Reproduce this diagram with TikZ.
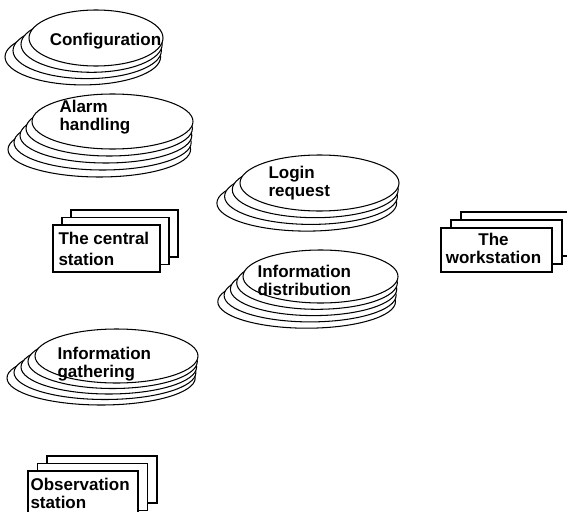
\documentclass[tikz,border=0pt]{standalone}
\usepackage{fontspec}
\setmainfont{Liberation Sans}
\newcommand\ellstack[7]{% cx cy rx ry n dx dy
  \foreach \i in {#5,...,1}{\draw[fill=white] ({#1+\i*#6*0.55},{#2+\i*#7}) ellipse ({#3-\i*#6*0.45)*1pt} and {#4pt});}
  \draw[fill=white] (#1,#2) ellipse ({#3pt} and {#4pt});
}
\newcommand\boxstack[6]{% x1 y1 x2 y2 dx dy
  \foreach \i in {2,1}{\draw[fill=white] ({#1+\i*#5},{#2+\i*#6}) rectangle ({#3+\i*#5},{#4+\i*#6});}
  \draw[fill=white] (#1,#2) rectangle (#3,#4);
}
\begin{document}
\begin{tikzpicture}[x=1pt,y=-1pt,line width=1.05pt,
  lbl/.style={font=\fontsize{17}{17.5}\selectfont\bfseries,inner sep=0pt,align=left,anchor=north west}]
\clip (0,0) rectangle (567,511);
% processes
\ellstack{96}{38}{67}{28}{3}{-8}{6.3}
\ellstack{112.5}{121.5}{80.5}{27.5}{4}{-6}{7}
\ellstack{319.5}{183}{79.5}{28}{3}{-7.7}{6.7}
\ellstack{320.5}{276.5}{77.5}{26.5}{4}{-6.3}{6.3}
\ellstack{116.5}{356}{81.5}{27}{4}{-7}{5.5}
% stations
\boxstack{53}{225}{160}{272}{9}{-7.5}
\boxstack{441}{228}{552}{272}{10}{-8}
\boxstack{28}{471}{138}{518}{9.5}{-7.5}
% labels
\node[lbl,anchor=north] (cfg) at (105.5,33) {Configuration};
\node[lbl] (alarm) at (59,100) {Alarm\\handling};
\node[lbl] (login) at (268,166) {Login\\request};
\node[lbl] (idist) at (257,265) {Information\\distribution};
\node[lbl] (igath) at (57,347) {Information\\gathering};
\node[lbl] (central) at (58,232) {The central\\[3pt]station};
\node[lbl,align=center,anchor=north] (work) at (493.5,233) {The\\workstation};
\node[lbl] (obs) at (30,478) {Observation\\station};
\end{tikzpicture}
\end{document}
